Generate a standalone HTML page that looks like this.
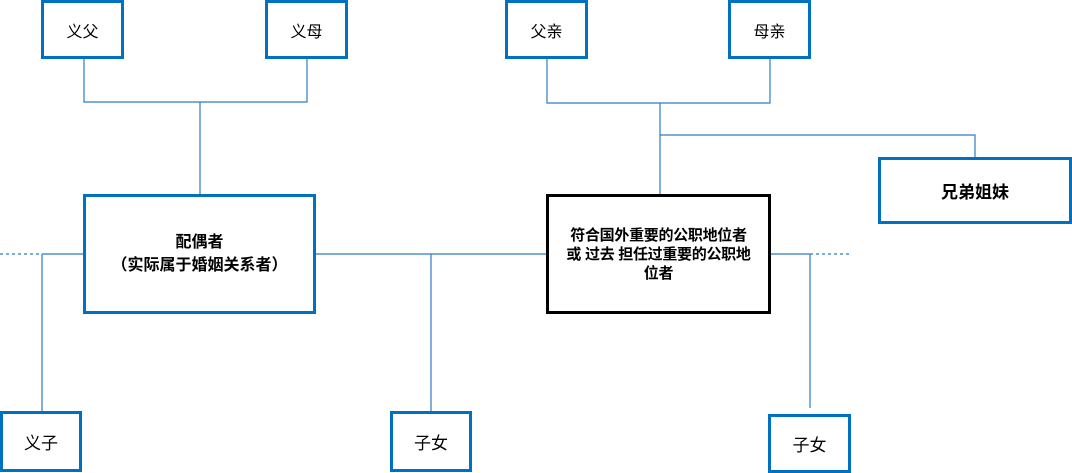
<!DOCTYPE html>
<html><head><meta charset="utf-8"><style>
body{margin:0;width:1072px;height:473px;background:#fff;overflow:hidden;position:relative;font-family:"Liberation Sans","Noto Sans CJK SC",sans-serif;}
.b{position:absolute;box-sizing:border-box;border:3px solid #0070C0;background:#fff;display:flex;align-items:center;justify-content:center;text-align:center;font-size:16px;color:#000;}
.k{border-color:#000;}
.bold{font-weight:bold;}
svg{position:absolute;left:0;top:0;}
</style></head><body>
<svg width="1072" height="473">
<g stroke="#2E7CC4" stroke-width="1.2" fill="none">
<path d="M84 58V102H307V58M200 102V195"/>
<path d="M547 58V103H770V58M660 103V195M660 135H975V158"/>
<path d="M42 254H84M42 254V412M315 254H547M431 254V412M770 254H810M810 254V408"/>
<path d="M0 254H42M810 254H850" stroke-dasharray="3,3"/>
</g>
</svg>
<div class="b" style="left:41px;top:0;width:83px;height:59px">义父</div>
<div class="b" style="left:265px;top:0;width:83px;height:59px">义母</div>
<div class="b" style="left:505px;top:0;width:83px;height:59px">父亲</div>
<div class="b" style="left:728px;top:0;width:83px;height:59px">母亲</div>
<div class="b bold" style="left:878px;top:157px;width:194px;height:67px;font-size:17px">兄弟姐妹</div>
<div class="b bold" style="left:83px;top:194px;width:233px;height:120px;line-height:23px">配偶者<br>（实际属于婚姻关系者）</div>
<div class="b k bold" style="left:546px;top:194px;width:225px;height:120px;font-size:15px;line-height:19px;white-space:nowrap;letter-spacing:-0.3px">符合国外重要的公职地位者<br>或 过去 担任过重要的公职地<br>位者</div>
<div class="b" style="left:0;top:411px;width:82px;height:61px;font-size:17px">义子</div>
<div class="b" style="left:390px;top:411px;width:82px;height:61px;font-size:17px">子女</div>
<div class="b" style="left:768px;top:414px;width:83px;height:59px;font-size:17px">子女</div>
</body></html>
